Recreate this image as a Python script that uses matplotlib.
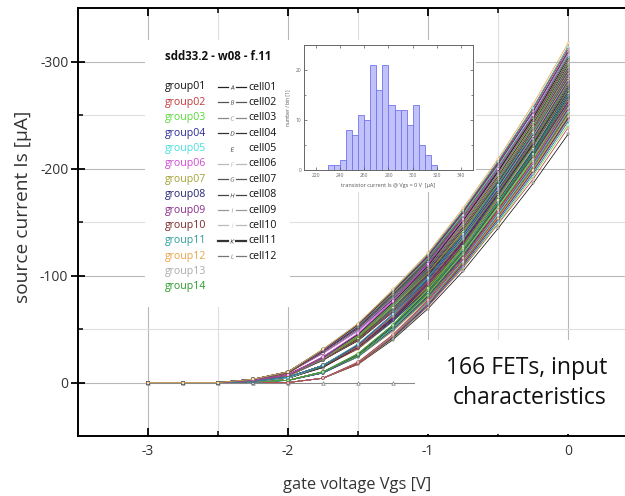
import numpy as np
import matplotlib
matplotlib.use("Agg")
import matplotlib.pyplot as plt
from matplotlib.patches import Rectangle
from matplotlib.lines import Line2D

plt.rcParams['font.family'] = ['Open Sans', 'DejaVu Sans']
plt.rcParams['axes.unicode_minus'] = False

# gate voltage steps [V]
vgs = [-3.0, -2.75, -2.5, -2.25, -2.0, -1.75, -1.5, -1.25, -1.0, -0.75, -0.5, -0.25, 0.0]

# |source current| [uA] per FET, one row per cell
is_g01 = [[0, 0, 0, 0, 0, 4, 17, 40, 69, 104, 144, 186, 232],
          [0, 0, 0, 1, 2, 9, 25, 50, 80, 117, 159, 203, 252],
          [0, 0, 0, 1, 4, 15, 32, 58, 88, 125, 166, 210, 259],
          [0, 0, 0, 2, 6, 21, 39, 66, 96, 132, 172, 216, 265],
          [0, 0, 0, 1, 4, 14, 33, 59, 91, 128, 171, 217, 268],
          [0, 0, 0, 1, 5, 16, 34, 61, 93, 131, 175, 221, 272],
          [0, 0, 0, 1, 5, 16, 35, 62, 95, 133, 177, 223, 276],
          [0, 0, 0, 2, 7, 22, 42, 70, 101, 139, 182, 228, 280],
          [0, 0, 0, 3, 9, 28, 50, 78, 109, 146, 188, 234, 285],
          [0, 0, 0, 3, 9, 29, 51, 80, 111, 150, 192, 239, 291],
          [0, 0, 0, 2, 7, 23, 44, 74, 107, 148, 193, 242, 297],
          [0, 0, 0, 2, 7, 24, 45, 75, 109, 151, 197, 247, 303]]
is_g02 = [[0, 0, 0, 0, 0, 4, 17, 41, 71, 107, 148, 190, 238],
          [0, 0, 0, 0, 0, 4, 18, 43, 75, 113, 156, 202, 252],
          [0, 0, 0, 0, 0, 4, 19, 45, 77, 116, 161, 207, 259],
          [0, 0, 0, 1, 4, 14, 32, 59, 89, 127, 169, 214, 265],
          [0, 0, 0, 1, 4, 15, 33, 60, 91, 129, 172, 218, 269],
          [0, 0, 0, 1, 4, 16, 34, 61, 93, 131, 175, 221, 273],
          [0, 0, 0, 1, 4, 16, 34, 62, 94, 133, 177, 224, 277],
          [0, 0, 0, 1, 4, 16, 34, 62, 95, 135, 179, 227, 280],
          [0, 0, 0, 2, 7, 23, 43, 71, 103, 142, 186, 232, 285],
          [0, 0, 0, 2, 8, 23, 44, 73, 105, 145, 190, 237, 291],
          [0, 0, 0, 3, 10, 29, 52, 82, 114, 153, 197, 244, 298],
          [0, 0, 0, 3, 10, 30, 53, 83, 116, 156, 201, 249, 304]]
is_g03 = [[0, 0, 0, 0, 0, 4, 18, 41, 72, 108, 149, 193, 241],
          [0, 0, 0, 1, 2, 9, 25, 50, 80, 118, 159, 204, 253],
          [0, 0, 0, 1, 2, 10, 25, 51, 83, 121, 164, 209, 260],
          [0, 0, 0, 1, 4, 15, 33, 59, 90, 128, 170, 215, 266],
          [0, 0, 0, 1, 2, 10, 26, 53, 86, 125, 169, 217, 269],
          [0, 0, 0, 2, 7, 21, 41, 68, 99, 136, 177, 222, 273],
          [0, 0, 0, 2, 7, 22, 41, 69, 100, 138, 180, 226, 277],
          [0, 0, 0, 2, 7, 22, 43, 70, 102, 140, 182, 228, 280],
          [0, 0, 0, 2, 7, 22, 43, 71, 103, 142, 186, 233, 286],
          [0, 0, 0, 3, 9, 29, 51, 80, 112, 150, 193, 239, 292],
          [0, 0, 0, 2, 7, 23, 44, 74, 108, 148, 194, 243, 298],
          [0, 0, 0, 3, 10, 31, 54, 84, 117, 157, 201, 250, 304]]
is_g04 = [[0, 0, 0, 0, 0, 4, 18, 42, 72, 109, 151, 195, 244],
          [0, 0, 0, 1, 2, 9, 25, 50, 81, 118, 160, 204, 254],
          [0, 0, 0, 1, 4, 15, 32, 58, 88, 125, 166, 211, 260],
          [0, 0, 0, 1, 2, 10, 26, 52, 85, 124, 168, 214, 266],
          [0, 0, 0, 2, 6, 21, 40, 67, 97, 134, 175, 219, 269],
          [0, 0, 0, 1, 4, 15, 33, 60, 92, 131, 174, 221, 273],
          [0, 0, 0, 1, 4, 15, 34, 61, 94, 133, 176, 224, 277],
          [0, 0, 0, 2, 7, 22, 42, 70, 101, 140, 183, 229, 281],
          [0, 0, 0, 1, 5, 16, 35, 64, 97, 138, 183, 232, 286],
          [0, 0, 0, 2, 7, 23, 44, 73, 105, 145, 190, 238, 292],
          [0, 0, 0, 3, 10, 29, 52, 82, 114, 154, 197, 245, 299],
          [0, 0, 0, 3, 10, 30, 53, 84, 117, 157, 201, 250, 305]]
is_g05 = [[0, 0, 0, 0, 0, 4, 18, 42, 73, 110, 152, 196, 245],
          [0, 0, 0, 0, 0, 4, 19, 44, 75, 114, 157, 203, 254],
          [0, 0, 0, 1, 2, 10, 26, 51, 83, 121, 164, 210, 261],
          [0, 0, 0, 1, 4, 16, 33, 60, 91, 128, 171, 216, 266],
          [0, 0, 0, 1, 5, 16, 34, 61, 92, 130, 173, 218, 269],
          [0, 0, 0, 2, 7, 21, 41, 68, 99, 136, 178, 223, 274],
          [0, 0, 0, 2, 7, 22, 42, 70, 101, 138, 180, 225, 277],
          [0, 0, 0, 1, 4, 16, 35, 63, 96, 135, 180, 228, 281],
          [0, 0, 0, 2, 7, 22, 43, 71, 104, 143, 187, 234, 287],
          [0, 0, 0, 2, 7, 23, 44, 73, 106, 146, 190, 239, 293],
          [0, 0, 0, 3, 10, 29, 52, 82, 115, 154, 198, 246, 300],
          [0, 0, 0, 3, 10, 30, 53, 84, 117, 157, 202, 251, 306]]
is_g06 = [[0, 0, 0, 0, 0, 4, 18, 42, 73, 110, 153, 197, 246],
          [0, 0, 0, 1, 2, 9, 25, 50, 81, 119, 161, 205, 255],
          [0, 0, 0, 1, 4, 15, 32, 58, 89, 126, 167, 211, 261],
          [0, 0, 0, 2, 6, 21, 40, 66, 96, 132, 173, 217, 266],
          [0, 0, 0, 1, 4, 15, 33, 60, 92, 130, 173, 219, 270],
          [0, 0, 0, 1, 4, 16, 34, 61, 93, 132, 175, 222, 274],
          [0, 0, 0, 2, 9, 27, 48, 76, 106, 142, 183, 227, 277],
          [0, 0, 0, 3, 9, 28, 49, 77, 107, 144, 185, 230, 281],
          [0, 0, 0, 3, 9, 28, 50, 79, 110, 148, 189, 235, 287],
          [0, 0, 0, 3, 9, 29, 51, 80, 112, 151, 193, 240, 293],
          [0, 0, 0, 2, 7, 23, 45, 75, 108, 149, 195, 245, 300],
          [0, 0, 0, 2, 7, 24, 46, 76, 111, 153, 200, 250, 307]]
is_g07 = [[0, 0, 0, 0, 2, 9, 24, 48, 78, 114, 155, 198, 246],
          [0, 0, 0, 1, 4, 15, 31, 57, 87, 123, 163, 207, 255],
          [0, 0, 0, 1, 2, 10, 26, 52, 83, 122, 165, 211, 262],
          [0, 0, 0, 1, 4, 15, 33, 60, 91, 128, 171, 216, 267],
          [0, 0, 0, 2, 6, 21, 40, 67, 97, 134, 176, 220, 270],
          [0, 0, 0, 1, 2, 10, 27, 54, 87, 127, 173, 221, 274],
          [0, 0, 0, 1, 4, 16, 34, 62, 95, 134, 178, 225, 278],
          [0, 0, 0, 2, 7, 22, 42, 70, 102, 140, 183, 230, 282],
          [0, 0, 0, 2, 7, 23, 44, 72, 104, 143, 187, 233, 287],
          [0, 0, 0, 2, 7, 22, 43, 72, 106, 146, 191, 239, 293],
          [0, 0, 0, 3, 10, 30, 53, 83, 115, 155, 198, 246, 300],
          [0, 0, 0, 3, 10, 30, 54, 84, 118, 158, 203, 253, 308]]
is_g08 = [[0, 0, 0, 0, 0, 4, 18, 42, 73, 111, 153, 198, 247],
          [0, 0, 0, 1, 2, 9, 25, 50, 81, 119, 161, 206, 256],
          [0, 0, 0, 1, 4, 15, 32, 58, 89, 126, 168, 212, 262],
          [0, 0, 0, 1, 2, 10, 26, 53, 85, 124, 168, 215, 267],
          [0, 0, 0, 1, 2, 10, 26, 53, 86, 126, 170, 217, 270],
          [0, 0, 0, 1, 4, 16, 34, 61, 94, 132, 176, 223, 275],
          [0, 0, 0, 2, 7, 22, 41, 69, 100, 138, 181, 227, 278],
          [0, 0, 0, 1, 5, 16, 35, 63, 96, 136, 180, 228, 282],
          [0, 0, 0, 2, 7, 22, 43, 72, 104, 143, 187, 235, 288],
          [0, 0, 0, 3, 9, 29, 51, 81, 112, 151, 194, 241, 294],
          [0, 0, 0, 3, 10, 29, 52, 82, 115, 155, 199, 247, 301],
          [0, 0, 0, 3, 10, 30, 54, 85, 118, 159, 204, 253, 309]]
is_g09 = [[0, 0, 0, 0, 2, 9, 24, 49, 79, 115, 156, 200, 248],
          [0, 0, 0, 0, 0, 4, 19, 44, 76, 115, 159, 205, 256],
          [0, 0, 0, 1, 4, 15, 32, 59, 89, 127, 168, 213, 263],
          [0, 0, 0, 2, 6, 21, 40, 66, 96, 133, 174, 218, 267],
          [0, 0, 0, 1, 4, 15, 33, 60, 92, 130, 173, 220, 271],
          [0, 0, 0, 2, 7, 21, 41, 68, 99, 137, 179, 224, 275],
          [0, 0, 0, 1, 5, 16, 35, 63, 95, 134, 178, 225, 278],
          [0, 0, 0, 2, 7, 23, 43, 71, 102, 141, 184, 230, 282],
          [0, 0, 0, 3, 9, 28, 50, 79, 110, 148, 190, 236, 288],
          [0, 0, 0, 2, 7, 23, 44, 73, 106, 146, 191, 240, 294],
          [0, 0, 0, 2, 7, 23, 45, 75, 109, 150, 196, 245, 301],
          [0, 0, 0, 3, 10, 30, 54, 85, 118, 159, 205, 254, 310]]
is_g10 = [[0, 0, 0, 0, 0, 4, 18, 43, 74, 111, 154, 198, 248],
          [0, 0, 0, 1, 2, 10, 25, 51, 82, 120, 162, 207, 257],
          [0, 0, 0, 1, 2, 10, 26, 52, 84, 122, 166, 212, 263],
          [0, 0, 0, 1, 5, 16, 34, 60, 91, 129, 171, 216, 267],
          [0, 0, 0, 2, 7, 21, 40, 67, 98, 135, 176, 221, 271],
          [0, 0, 0, 1, 4, 15, 33, 61, 93, 132, 176, 222, 275],
          [0, 0, 0, 2, 7, 21, 41, 69, 100, 138, 180, 226, 278],
          [0, 0, 0, 2, 7, 22, 42, 70, 102, 141, 184, 231, 283],
          [0, 0, 0, 2, 7, 23, 43, 72, 104, 144, 188, 236, 289],
          [0, 0, 0, 3, 9, 29, 51, 81, 113, 152, 195, 242, 295],
          [0, 0, 0, 3, 9, 29, 52, 83, 115, 154, 198, 246, 301],
          [0, 0, 0, 3, 10, 31, 54, 85, 119, 160, 206, 256, 312]]
is_g11 = [[0, 0, 0, 0, 2, 9, 24, 49, 79, 116, 157, 200, 249],
          [0, 0, 0, 1, 4, 15, 32, 57, 87, 124, 164, 208, 257],
          [0, 0, 0, 1, 4, 15, 32, 59, 90, 127, 169, 214, 264],
          [0, 0, 0, 0, 2, 9, 26, 52, 85, 124, 168, 214, 267],
          [0, 0, 0, 1, 4, 16, 34, 61, 92, 131, 174, 219, 271],
          [0, 0, 0, 2, 7, 22, 42, 69, 100, 137, 179, 224, 275],
          [0, 0, 0, 2, 7, 22, 42, 69, 101, 139, 181, 227, 279],
          [0, 0, 0, 3, 9, 28, 49, 78, 108, 145, 187, 232, 283],
          [0, 0, 0, 1, 5, 16, 36, 64, 98, 139, 185, 234, 289],
          [0, 0, 0, 2, 7, 23, 44, 73, 106, 147, 192, 240, 295],
          [0, 0, 0, 3, 10, 30, 53, 83, 115, 155, 199, 248, 302],
          [0, 0, 0, 3, 10, 31, 55, 86, 120, 161, 207, 257, 314]]
is_g12 = [[0, 0, 0, 0, 0, 4, 18, 43, 74, 112, 154, 199, 249],
          [0, 0, 0, 1, 2, 10, 25, 51, 82, 120, 163, 208, 258],
          [0, 0, 0, 2, 6, 21, 39, 66, 95, 131, 172, 215, 264],
          [0, 0, 0, 1, 4, 15, 33, 60, 91, 129, 172, 217, 268],
          [0, 0, 0, 1, 4, 16, 33, 61, 92, 131, 174, 220, 272],
          [0, 0, 0, 1, 4, 16, 34, 62, 94, 133, 177, 224, 276],
          [0, 0, 0, 1, 4, 16, 34, 62, 95, 134, 179, 226, 279],
          [0, 0, 0, 2, 7, 22, 42, 71, 103, 141, 185, 231, 284],
          [0, 0, 0, 2, 7, 23, 43, 72, 105, 144, 189, 236, 290],
          [0, 0, 0, 2, 7, 23, 44, 74, 107, 147, 192, 241, 296],
          [0, 0, 0, 3, 10, 30, 54, 84, 116, 156, 200, 248, 302],
          [0, 0, 0, 3, 10, 31, 55, 87, 121, 163, 209, 260, 317]]
is_g13 = [[0, 0, 0, 1, 2, 9, 25, 49, 80, 116, 158, 201, 250],
          [0, 0, 0, 0, 0, 4, 19, 44, 77, 116, 160, 206, 258],
          [0, 0, 0, 1, 4, 15, 33, 59, 90, 127, 170, 215, 265],
          [0, 0, 0, 2, 6, 21, 40, 67, 97, 133, 174, 218, 268],
          [0, 0, 0, 1, 2, 10, 27, 54, 87, 126, 171, 219, 272],
          [0, 0, 0, 2, 7, 22, 41, 69, 100, 137, 179, 225, 276],
          [0, 0, 0, 2, 7, 22, 42, 70, 101, 139, 182, 227, 279],
          [0, 0, 0, 1, 5, 16, 35, 63, 97, 137, 182, 230, 284],
          [0, 0, 0, 3, 9, 28, 50, 79, 111, 149, 191, 238, 290],
          [0, 0, 0, 3, 9, 29, 52, 81, 113, 152, 195, 243, 296],
          [0, 0, 0, 2, 7, 24, 45, 75, 109, 150, 196, 246, 302]]
is_g14 = [[0, 0, 0, 0, 0, 4, 18, 43, 75, 112, 156, 201, 251],
          [0, 0, 0, 1, 2, 10, 25, 51, 82, 120, 163, 208, 259],
          [0, 0, 0, 1, 2, 10, 26, 52, 84, 123, 167, 213, 265],
          [0, 0, 0, 1, 2, 10, 26, 53, 85, 125, 169, 216, 268],
          [0, 0, 0, 2, 7, 21, 41, 68, 98, 135, 177, 222, 272],
          [0, 0, 0, 1, 2, 10, 27, 54, 88, 128, 174, 222, 276],
          [0, 0, 0, 1, 4, 15, 34, 62, 95, 134, 178, 226, 279],
          [0, 0, 0, 2, 7, 22, 42, 71, 103, 142, 185, 232, 285],
          [0, 0, 0, 2, 7, 23, 43, 72, 105, 145, 189, 237, 291],
          [0, 0, 0, 3, 10, 29, 52, 81, 113, 153, 196, 244, 297],
          [0, 0, 0, 3, 10, 30, 53, 83, 116, 156, 200, 248, 303]]

# the one FET that never turned on
is_dead = [0, 0, 0, 0, 0, 0, 0, 0, 0, 0, 0, 0, 0]

group_names = ["group01", "group02", "group03", "group04", "group05", "group06", "group07",
               "group08", "group09", "group10", "group11", "group12", "group13", "group14"]
group_colors = ["#111111", "#c43a3a", "#5ad83a", "#2c2c96", "#45dede", "#d24ad2", "#a3a336",
                "#262672", "#8a2a8a", "#7a2626", "#2e9c9c", "#eaa446", "#ababab", "#2a9a2a"]
cell_names = ["cell01", "cell02", "cell03", "cell04", "cell05", "cell06",
              "cell07", "cell08", "cell09", "cell10", "cell11", "cell12"]
cell_letters = ["A", "B", "C", "D", "E", "F", "G", "H", "I", "J", "K", "L"]
cell_line_colors = ["#222222", "#555555", "#888888", "#333333", None, "#bbbbbb",
                    "#555555", "#444444", "#999999", "#bbbbbb", "#333333", "#777777"]

# inset histogram of Is @ Vgs = 0 V
hist_bin_lo = [230, 235, 240, 245, 250, 255, 260, 265, 270,
               275, 280, 285, 290, 295, 300, 305, 310, 315]
hist_counts = [1, 1, 2, 8, 7, 11, 10, 21, 16, 21, 13, 12, 12, 9, 13, 5, 3, 1]

groups = [is_g01, is_g02, is_g03, is_g04, is_g05, is_g06, is_g07,
          is_g08, is_g09, is_g10, is_g11, is_g12, is_g13, is_g14]

W, H = 625, 496


def fbox(x0, y0, x1, y1):
    # pixel box (top-left origin) -> figure fraction [l, b, w, h]
    return [x0 / W, 1 - y1 / H, (x1 - x0) / W, (y1 - y0) / H]


def white_box(ax, x0, y0, x1, y1, z):
    l, b, w, h = fbox(x0, y0, x1, y1)
    ax.add_patch(Rectangle((l, b), w, h, transform=fig.transFigure,
                           facecolor="white", edgecolor="none", zorder=z))


fig = plt.figure(figsize=(W / 100, H / 100), dpi=100)
ax = fig.add_axes(fbox(78, 8, 690, 436))

# curves, source current is negative
ax.plot(vgs, -np.array(is_dead), color="#888888", lw=0.7, marker="^", ms=2.5,
        mfc="white", mec="#777777", mew=0.5, zorder=2)
# draw cell by cell so the group colours mix through the bundle
for r in range(12):
    for g, rows in enumerate(groups):
        if r < len(rows):
            ax.plot(vgs, -np.array(rows[r]), color=group_colors[g], lw=0.55, marker="s",
                    ms=1.9, mfc="white", mec=group_colors[g], mew=0.3, zorder=2)

ax.set_xlim(-3.5, 0.871)
ax.set_ylim(50, -350)
ax.set_xticks([-3, -2, -1, 0])
ax.set_xticks([-2.5, -1.5, -0.5, 0.5], minor=True)
ax.set_yticks([-300, -200, -100, 0])
ax.set_yticks([-250, -150, -50], minor=True)
ax.set_axisbelow(True)
ax.grid(which="major", color="#b8b8b8", lw=0.8)
ax.grid(which="minor", color="#dedede", lw=0.8)
ax.tick_params(which="major", direction="in", top=True, length=6, width=1.3,
               labelsize=10, labelcolor="#333333", pad=6)
ax.tick_params(which="minor", direction="in", top=True, length=3.5, width=1.1)
ax.tick_params(axis="y", which="major", direction="inout", length=10, pad=2)
for s in ["left", "bottom", "top"]:
    ax.spines[s].set_linewidth(1.4)
ax.spines["right"].set_visible(False)

ax.set_xlabel("gate voltage Vgs [V]", fontsize=11.8, color="#333333")
ax.xaxis.set_label_coords((357.5 - 78) / 612, -0.096)
ax.set_ylabel("source current Is [µA]", fontsize=13.8, color="#333333")
ax.yaxis.set_label_coords(-0.075, 0.535)

# white panels over the grid for legend, inset and caption
white_box(ax, 145, 40, 290, 307, 1)
white_box(ax, 290, 40, 476, 192, 1)
white_box(ax, 415, 340, 700, 434, 4)

fig.text(607 / W, 1 - 368 / H, "166 FETs, input", ha="right", va="center",
         fontsize=16.5, color="#111111")
fig.text(607 / W, 1 - 398 / H, "characteristics", ha="right", va="center",
         fontsize=16.5, color="#111111")

# custom legend
fig.text(165 / W, 1 - 57 / H, "sdd33.2 - w08 - f.11", ha="left", va="center",
         fontsize=8.3, fontweight="bold", color="#111111")
for k, name in enumerate(group_names):
    y = 1 - (87 + 15.38 * k) / H
    fig.text(165 / W, y, name, ha="left", va="center", fontsize=7.6,
             color=group_colors[k])
for k, name in enumerate(cell_names):
    y = 1 - (87 + 15.38 * k) / H
    c = cell_line_colors[k]
    if c is not None:
        for xa, xb in [(218, 228), (236, 246)]:
            fig.add_artist(Line2D([xa / W, xb / W], [y, y], color=c,
                                  lw=1.6 if k == 10 else 0.9))
    fig.add_artist(Line2D([232 / W], [y], marker="$%s$" % cell_letters[k], ms=3.0,
                          color=c if c is not None else "#333333", mec="none", lw=0))
    fig.text(248 / W, y, name, ha="left", va="center", fontsize=7.6, color="#111111")

# inset histogram
ins = fig.add_axes(fbox(304, 45, 473, 170))
ins.bar(hist_bin_lo, hist_counts, width=5, align="edge", color="#c2c2fa",
        edgecolor="#7474ee", lw=0.6)
ins.set_xlim(210, 350)
ins.set_ylim(0, 25)
ins.set_xticks([220, 240, 260, 280, 300, 320, 340])
ins.set_yticks([0, 10, 20])
ins.set_yticks([5, 15, 25], minor=True)
ins.tick_params(which="both", direction="in", top=True, right=True, length=2,
                width=0.5, color="#555555", labelsize=3.5, labelcolor="#666666", pad=2)
ins.tick_params(which="minor", length=1.3)
for s in ins.spines.values():
    s.set_color("#666666")
    s.set_linewidth(0.7)
ins.set_xlabel("transistor current Is @ Vgs = 0 V  [µA]", fontsize=4, color="#555555",
               labelpad=4)
ins.set_ylabel("number / bin [1]", fontsize=3.5, color="#555555", labelpad=4)

fig.savefig("out.png", dpi=100)
